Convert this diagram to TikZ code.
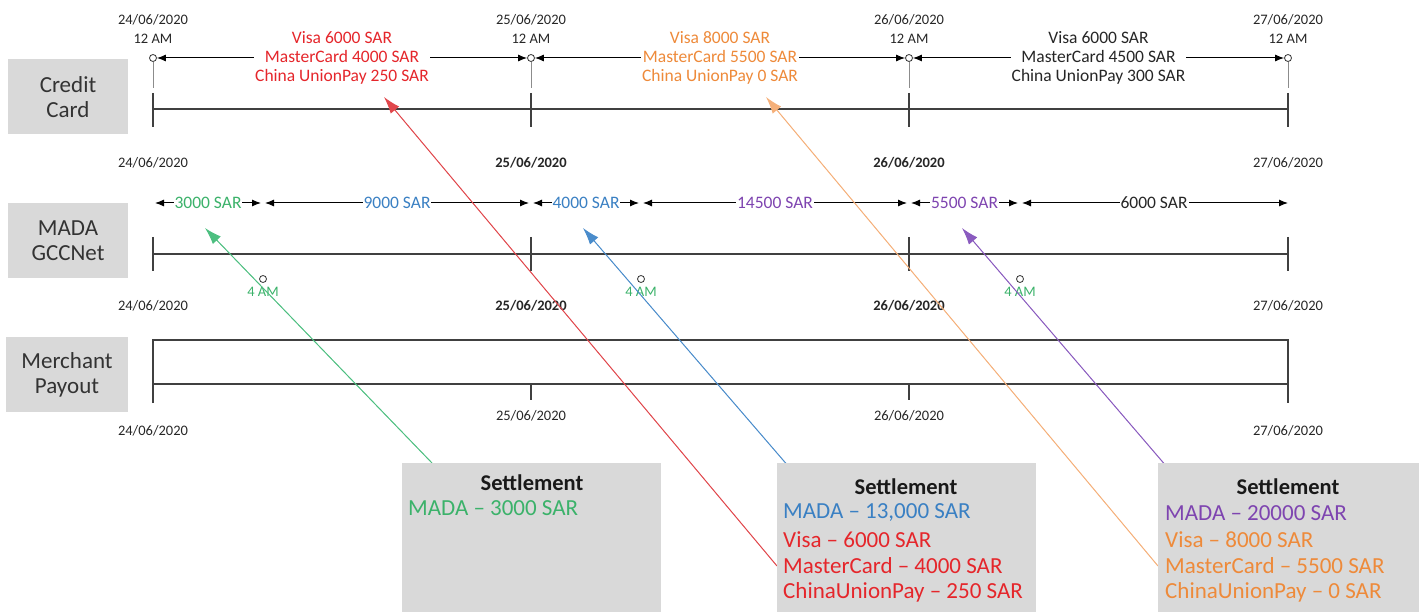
\documentclass[tikz,border=0pt]{standalone}
\usepackage{fontspec}
\setmainfont{Carlito}
\usetikzlibrary{arrows.meta}
\definecolor{boxgray}{HTML}{D9D9D9}
\definecolor{cgreen}{HTML}{3BB26A}
\definecolor{cblue}{HTML}{3A80C3}
\definecolor{cred}{HTML}{E5262B}
\definecolor{corange}{HTML}{EE8A3A}
\definecolor{cpurple}{HTML}{7E44B0}
\definecolor{lgreen}{HTML}{4DBF80}
\definecolor{lblue}{HTML}{4A8CCB}
\definecolor{lred}{HTML}{E0474C}
\definecolor{lorange}{HTML}{F5B07A}
\definecolor{lpurple}{HTML}{8A5BBF}
\tikzset{
  date/.style={font=\fontsize{14.5}{19}\selectfont, text=black!85, inner sep=1pt, align=center},
  bdate/.style={date, font=\bfseries\fontsize{14.5}{19}\selectfont},
  lbl/.style={font=\fontsize{17.5}{19}\selectfont, align=center, fill=white, inner sep=1pt},
  rowbox/.style={fill=boxgray, minimum width=120pt, minimum height=75pt, inner sep=0pt,
    font=\fontsize{23}{25}\selectfont, align=center, text=black!80},
  tl/.style={line width=1pt, {Latex[length=9pt,width=7pt]}-{Latex[length=9pt,width=7pt]}},
  axis/.style={line width=1.3pt, draw=black!75},
  faint/.style={line width=1pt, draw=black!45},
  dot/.style={circle, draw=black!80, line width=0.8pt, minimum size=7pt, inner sep=0pt, fill=white},
  conn/.style={line width=1pt, -{Latex[length=17pt,width=11pt]}},
  sbox/.style={fill=boxgray, minimum height=149pt, anchor=north west, inner sep=0pt},
  stitle/.style={font=\bfseries\fontsize{22.5}{24}\selectfont, text=black!90},
  sline/.style={font=\fontsize{23}{24}\selectfont, anchor=west, inner sep=0pt},
  fouram/.style={font=\fontsize{14.5}{16}\selectfont, text=cgreen, inner sep=0pt}
}
\begin{document}
\begin{tikzpicture}[x=1pt,y=-1pt]
\useasboundingbox (0,0) rectangle (1419,612);

% ---------- row labels ----------
\node[rowbox] (cc) at (68,97) {Credit\\Card};
\node[rowbox] (md) at (68,240.5) {MADA\\GCCNet};
\node[rowbox, minimum width=122pt] (mp) at (67,374.5) {Merchant\\Payout};

% ---------- Credit card row ----------
\node[date] (cd1) at (153,29) {24/06/2020\\12 AM};
\node[date] (cd2) at (531,29) {25/06/2020\\12 AM};
\node[date] (cd3) at (909,29) {26/06/2020\\12 AM};
\node[date] (cd4) at (1288,29) {27/06/2020\\12 AM};

\foreach \i/\x in {1/153,2/531,3/909,4/1288}{
  \node[dot] (o\i) at (\x,58) {};
  \coordinate (ct\i) at (\x,93);
  \coordinate (cb\i) at (\x,127);
  \draw[faint] (o\i) -- (\x,88);
  \draw[axis] (ct\i) -- (cb\i);
}
\draw[axis] (153,109) -- (1288,109);

\draw[tl] (o1) -- node[lbl, text=cred] (ccl1) {Visa 6000 SAR\\MasterCard 4000 SAR\\China UnionPay 250 SAR} (o2);
\draw[tl] (o2) -- node[lbl, text=corange] (ccl2) {Visa 8000 SAR\\MasterCard 5500 SAR\\China UnionPay 0 SAR} (o3);
\draw[tl] (o3) -- node[lbl, text=black!85] (ccl3) {Visa 6000 SAR\\MasterCard 4500 SAR\\China UnionPay 300 SAR} (o4);

% ---------- MADA row ----------
\node[date] (md1) at (153,163) {24/06/2020};
\node[bdate] (md2) at (531,163) {25/06/2020};
\node[bdate] (md3) at (909,163) {26/06/2020};
\node[date] (md4) at (1288,163) {27/06/2020};

\foreach \i/\x in {0/153,1/263,2/531,3/641,4/909,5/1020,6/1288}{
  \coordinate (m\i) at (\x,203);
}
\draw[tl, shorten <=2pt, shorten >=2pt] (m0) -- node[lbl, text=cgreen] (ml1) {3000 SAR} (m1);
\draw[tl, shorten <=2pt, shorten >=2pt] (m1) -- node[lbl, text=cblue] (ml2) {9000 SAR} (m2);
\draw[tl, shorten <=2pt, shorten >=2pt] (m2) -- node[lbl, text=cblue] (ml3) {4000 SAR} (m3);
\draw[tl, shorten <=2pt, shorten >=2pt] (m3) -- node[lbl, text=cpurple] (ml4) {14500 SAR} (m4);
\draw[tl, shorten <=2pt, shorten >=2pt] (m4) -- node[lbl, text=cpurple] (ml5) {5500 SAR} (m5);
\draw[tl, shorten <=2pt, shorten >=0pt] (m5) -- node[lbl, text=black!85] (ml6) {6000 SAR} (m6);

\draw[axis] (153,254) -- (1288,254);
\foreach \i/\x in {1/153,2/531,3/909,4/1288}{
  \draw[axis] (\x,237) -- (\x,271);
}
\foreach \i/\x in {1/263,2/641,3/1020}{
  \node[dot, fill=none, minimum size=7pt] (fd\i) at (\x,279) {};
  \node[fouram] (fa\i) at (\x,292) {4 AM};
}

% ---------- Merchant payout row ----------
\node[date] (mt1) at (153,306) {24/06/2020};
\node[bdate] (mt2) at (531,306) {25/06/2020};
\node[bdate] (mt3) at (909,306) {26/06/2020};
\node[date] (mt4) at (1288,306) {27/06/2020};

\draw[axis] (153,403) -- (153,340) -- (1288,340) -- (1288,403);
\draw[axis] (153,384) -- (1288,384);
\draw[axis] (531,384) -- (531,400);
\draw[axis] (909,384) -- (909,400);

\node[date] (mb2) at (531,416) {25/06/2020};
\node[date] (mb3) at (909,416) {26/06/2020};
\node[date] (mb1) at (153,431) {24/06/2020};
\node[date] (mb4) at (1288,431) {27/06/2020};

% ---------- connectors ----------
\coordinate (gs) at (432,463);
\coordinate (gt) at (205,228);
\coordinate (bs) at (808,489);
\coordinate (bt) at (583,228);
\coordinate (rs) at (777,566);
\coordinate (rt) at (384,97);
\coordinate (os) at (1158,566);
\coordinate (ot) at (766,97);
\coordinate (ps) at (1185,488);
\coordinate (pt) at (962,228);

\draw[conn, draw=lgreen, fill=cgreen] (gs) -- (gt);
\draw[conn, draw=lred, fill=cred] (rs) -- (rt);
\draw[conn, draw=lblue, fill=cblue] (bs) -- (bt);
\draw[conn, draw=lorange, fill=corange] (os) -- (ot);
\draw[conn, draw=lpurple, fill=cpurple] (ps) -- (pt);

% ---------- settlement boxes ----------
\node[sbox, minimum width=259pt] (s1) at (402,463) {};
\node[sbox, minimum width=259pt] (s2) at (777,463) {};
\node[sbox, minimum width=261pt] (s3) at (1158,463) {};

\node[stitle] (s1t) at (532,483) {Settlement};
\node[sline, text=cgreen] (s1a) at (408,508) {MADA -- 3000 SAR};

\node[stitle] (s2t) at (906,487) {Settlement};
\node[sline, text=cblue] (s2a) at (783,513) {MADA -- 13,000 SAR};
\node[sline, text=cred] (s2b) at (783,540) {Visa -- 6000 SAR};
\node[sline, text=cred] (s2c) at (783,566) {MasterCard -- 4000 SAR};
\node[sline, text=cred] (s2d) at (783,592) {ChinaUnionPay -- 250 SAR};

\node[stitle] (s3t) at (1288,487) {Settlement};
\node[sline, text=cpurple] (s3a) at (1165,513) {MADA -- 20000 SAR};
\node[sline, text=corange] (s3b) at (1165,540) {Visa -- 8000 SAR};
\node[sline, text=corange] (s3c) at (1165,566) {MasterCard -- 5500 SAR};
\node[sline, text=corange] (s3d) at (1165,592) {ChinaUnionPay -- 0 SAR};
\end{tikzpicture}
\end{document}
